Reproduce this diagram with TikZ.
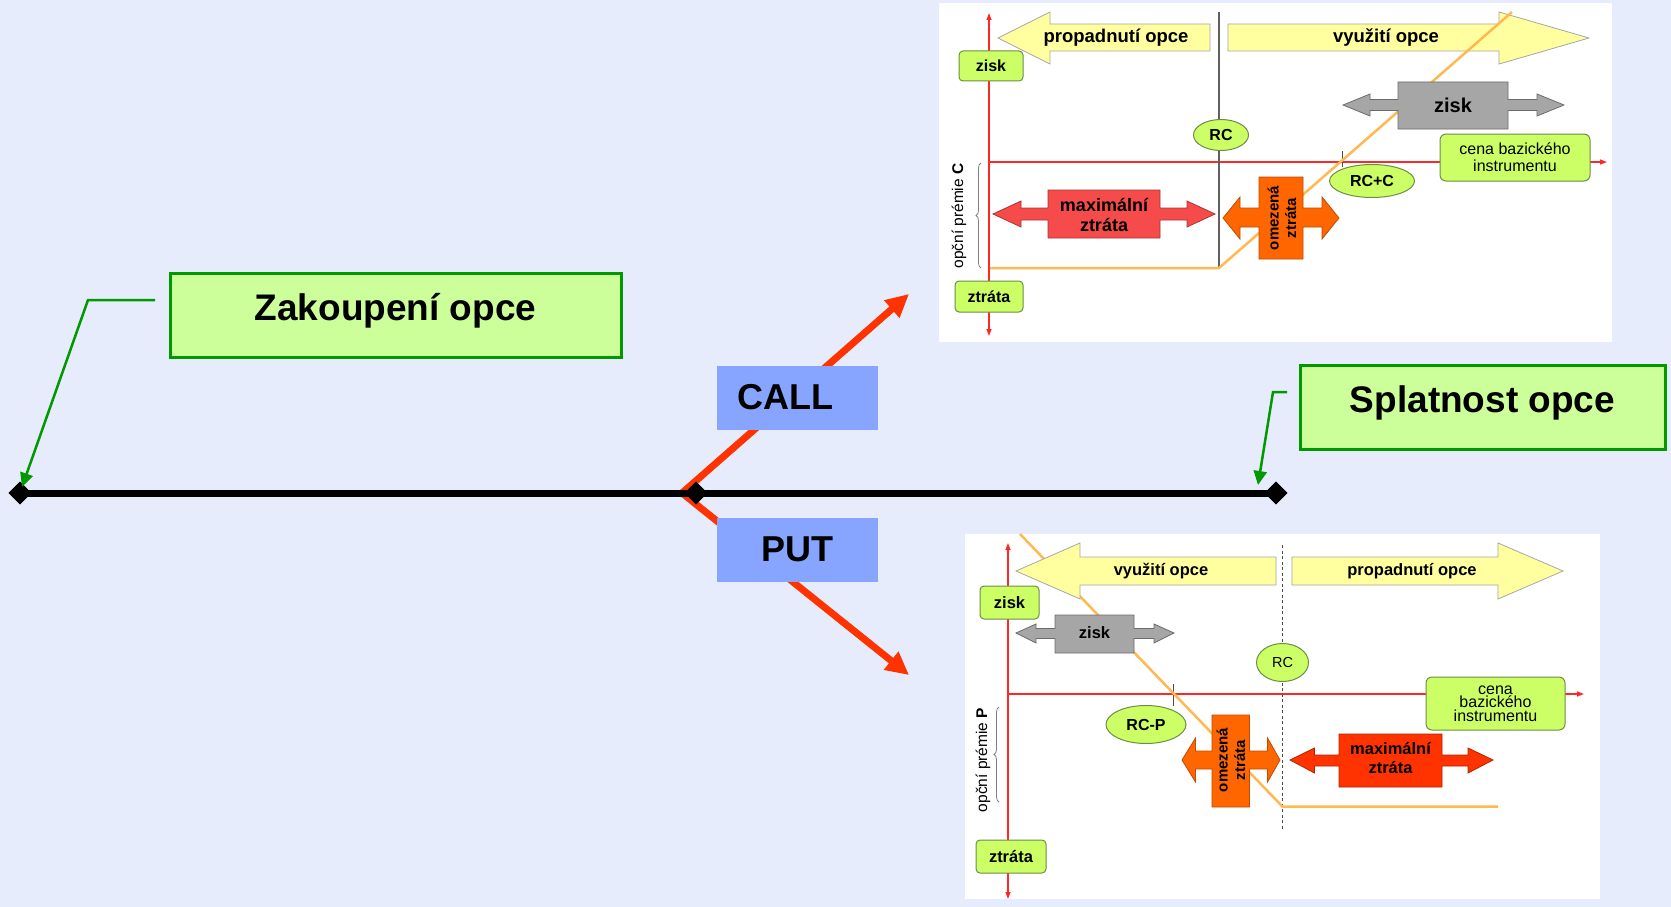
\documentclass[tikz,border=0pt]{standalone}
\usepackage{fontspec}
\setmainfont{Liberation Sans}
\usetikzlibrary{arrows.meta,shapes.geometric,decorations.pathreplacing}
\definecolor{bgc}{RGB}{230,236,252}
\definecolor{mainlime}{RGB}{204,255,153}
\definecolor{boxgreen}{RGB}{0,153,0}
\definecolor{callblue}{RGB}{135,165,255}
\definecolor{arrred}{RGB}{255,51,0}
\definecolor{chlime}{RGB}{204,255,102}
\definecolor{chborder}{RGB}{110,140,70}
\definecolor{yel}{RGB}{255,255,160}
\definecolor{payoff}{RGB}{255,185,80}
\definecolor{axisred}{RGB}{255,40,40}
\definecolor{maxredA}{RGB}{245,75,75}
\definecolor{maxredB}{RGB}{255,51,0}
\definecolor{omez}{RGB}{255,102,0}
\definecolor{greyarr}{RGB}{166,166,166}
\begin{document}
\begin{tikzpicture}[x=1pt,y=-1pt,
  mainbox/.style={draw=boxgreen, line width=3pt, fill=mainlime, inner sep=0pt},
  tagbox/.style={fill=callblue, inner sep=0pt, minimum width=161pt, minimum height=64pt},
  bigtext/.style={inner sep=0pt, font=\fontsize{37}{44}\selectfont\bfseries},
  tagtext/.style={inner sep=0pt, font=\fontsize{36}{42}\selectfont\bfseries},
  leader/.style={draw=boxgreen, line width=2.5pt, -{Triangle[length=14pt,width=13pt]}},
  redv/.style={draw=arrred, line width=7pt, line join=round,
     {Triangle[length=23pt,width=22pt]}-{Triangle[length=23pt,width=22pt]}},
  dia/.style={diamond, fill=black, inner sep=0pt, minimum size=23pt},
  panel/.style={fill=white},
  axis/.style={draw=axisred, line width=1.3pt},
  axarr/.style={axis, -{Triangle[length=7pt,width=5pt]}},
  axarrb/.style={axis, {Triangle[length=7pt,width=5pt]}-{Triangle[length=7pt,width=5pt]}},
  chbox/.style={draw=chborder, fill=chlime, line width=1pt, rounded corners=4pt, inner sep=0pt},
  chell/.style={ellipse, draw=chborder, fill=chlime, line width=1pt, inner sep=0pt},
  yarrow/.style={fill=yel, draw=gray!70, line width=0.8pt},
  garrow/.style={fill=greyarr, draw=gray!85!black, line width=0.8pt},
  rarrowA/.style={fill=maxredA, draw=maxredA!70!black, line width=0.8pt},
  rarrowB/.style={fill=maxredB, draw=maxredB!70!black, line width=0.8pt},
  oarrow/.style={fill=omez, draw=omez!75!black, line width=0.8pt},
  pay/.style={draw=payoff, line width=2.5pt},
  cbold/.style={inner sep=0pt, align=center, font=\fontsize{18.5}{20}\selectfont\bfseries},
  pbold/.style={inner sep=0pt, align=center, font=\fontsize{16.5}{19}\selectfont\bfseries},
  brc/.style={draw=gray, line width=0.8pt, decorate, decoration={brace, amplitude=5pt}}
]
\useasboundingbox (0,0) rectangle (1671,907);
\fill[bgc] (0,0) rectangle (1671,907);

% ================= CALL panel =================
\fill[panel] (939,3) rectangle (1612,342);
\draw[yarrow] (998,38) -- (1050,12) -- (1050,24) -- (1210,24) -- (1210,51) -- (1050,51) -- (1050,64) -- cycle;
\draw[yarrow] (1228,24) -- (1499,24) -- (1499,12) -- (1589,38) -- (1499,64) -- (1499,51) -- (1228,51) -- cycle;
\node[cbold] (cprop) at (1116,38) {propadnutí opce};
\node[cbold] (cvyu) at (1386,38) {využití opce};
\draw[axarrb] (989,13) -- (989,336);
\draw[axarr] (989,162) -- (1607,162);
\draw[draw=gray!75!black, line width=1.2pt] (1219,12) -- (1219,268);
\draw[draw=gray!60!black, line width=1pt] (1342,151) -- (1342,167);
\draw[pay] (990,268) -- (1219,268) -- (1512,12);
\draw[garrow] (1343,105) -- (1370,94) -- (1370,99.5) -- (1398,99.5) -- (1398,82) -- (1508,82) -- (1508,99.5) -- (1537,99.5) -- (1537,94) -- (1564,105) -- (1537,116) -- (1537,110.5) -- (1508,110.5) -- (1508,129) -- (1398,129) -- (1398,110.5) -- (1370,110.5) -- (1370,116) -- cycle;
\node[inner sep=0pt, font=\fontsize{20}{22}\selectfont\bfseries] (czisk2) at (1453,105) {zisk};
\draw[rarrowA] (993,214) -- (1021,201) -- (1021,208) -- (1048,208) -- (1048,190) -- (1160,190) -- (1160,208) -- (1187,208) -- (1187,201) -- (1215,214) -- (1187,227) -- (1187,220) -- (1160,220) -- (1160,238) -- (1048,238) -- (1048,220) -- (1021,220) -- (1021,227) -- cycle;
\node[cbold, font=\fontsize{18}{20}\selectfont\bfseries] (cmax) at (1104,215) {maximální\\ztráta};
\draw[oarrow] (1223,218) -- (1240,197) -- (1240,208) -- (1259,208) -- (1259,177) -- (1303,177) -- (1303,208) -- (1322,208) -- (1322,197) -- (1339,218) -- (1322,239) -- (1322,227) -- (1303,227) -- (1303,259) -- (1259,259) -- (1259,227) -- (1240,227) -- (1240,239) -- cycle;
\node[inner sep=0pt, align=center, rotate=90, font=\fontsize{15}{17.5}\selectfont\bfseries] (comez) at (1282,218) {omezená\\ztráta};
\node[chbox, minimum width=64pt, minimum height=30pt, font=\fontsize{16}{18}\selectfont\bfseries] (czisk) at (991,66) {zisk};
\node[chbox, minimum width=68pt, minimum height=31pt, font=\fontsize{16}{18}\selectfont\bfseries] (cztr) at (989,296.5) {ztráta};
\node[chell, minimum width=55pt, minimum height=31pt, font=\fontsize{16}{18}\selectfont\bfseries] (crc) at (1221,135) {RC};
\node[chell, minimum width=85pt, minimum height=33pt, font=\fontsize{16}{18}\selectfont\bfseries] (crcc) at (1372,181) {RC+C};
\node[chbox, rounded corners=6pt, minimum width=150pt, minimum height=47pt, align=center, font=\fontsize{16}{16.7}\selectfont] (ccena) at (1515,157.5) {cena bazického\\instrumentu};
\draw[brc] (981,268) -- (981,163);
\node[inner sep=0pt, rotate=90, font=\fontsize{15.5}{17}\selectfont] (cprem) at (959,216) {opční prémie \textbf{C}};

% ================= PUT panel =================
\fill[panel] (965,534) rectangle (1600,899);
\draw[axarrb] (1008,543) -- (1008,899);
\draw[axarr] (1008,694) -- (1584,694);
\draw[draw=gray!60!black, line width=1pt, dash pattern=on 3pt off 2.5pt] (1282.6,545) -- (1282.6,829);
\draw[draw=gray!60!black, line width=1pt] (1173.5,684) -- (1173.5,706);
\draw[pay] (1020,534) -- (1282.6,806.7) -- (1498,806.7);
\draw[yarrow] (1016,571) -- (1080,543) -- (1080,557) -- (1276,557) -- (1276,585) -- (1080,585) -- (1080,599) -- cycle;
\draw[yarrow] (1292,557) -- (1498,557) -- (1498,543) -- (1563,571) -- (1498,599) -- (1498,585) -- (1292,585) -- cycle;
\node[pbold] (pvyu) at (1161,571) {využití opce};
\node[pbold] (pprop) at (1412,571) {propadnutí opce};
\draw[garrow] (1016,633) -- (1036,624) -- (1036,628.5) -- (1055,628.5) -- (1055,615) -- (1134,615) -- (1134,628.5) -- (1154,628.5) -- (1154,624) -- (1174,633) -- (1154,643) -- (1154,638.5) -- (1134,638.5) -- (1134,653) -- (1055,653) -- (1055,638.5) -- (1036,638.5) -- (1036,643) -- cycle;
\node[pbold] (pzisk2) at (1094.5,633) {zisk};
\draw[oarrow] (1182,760) -- (1195.5,738) -- (1195.5,751) -- (1212,751) -- (1212,715) -- (1249.5,715) -- (1249.5,751) -- (1267.5,751) -- (1267.5,738) -- (1280,760) -- (1267.5,782) -- (1267.5,769) -- (1249.5,769) -- (1249.5,807) -- (1212,807) -- (1212,769) -- (1195.5,769) -- (1195.5,782) -- cycle;
\node[inner sep=0pt, align=center, rotate=90, font=\fontsize{15}{17.5}\selectfont\bfseries] (pomez) at (1231,760) {omezená\\ztráta};
\draw[rarrowB] (1290,760) -- (1314.5,748) -- (1314.5,755) -- (1339,755) -- (1339,734) -- (1442,734) -- (1442,755) -- (1468,755) -- (1468,748) -- (1493,760) -- (1468,773) -- (1468,766) -- (1442,766) -- (1442,787) -- (1339,787) -- (1339,766) -- (1314.5,766) -- (1314.5,773) -- cycle;
\node[pbold] (pmax) at (1390.5,758) {maximální\\ztráta};
\node[chbox, minimum width=59pt, minimum height=33pt, font=\fontsize{16.5}{18}\selectfont\bfseries] (pzisk) at (1009.5,602.5) {zisk};
\node[chbox, minimum width=70pt, minimum height=33pt, font=\fontsize{16.5}{18}\selectfont\bfseries] (pztr) at (1011,856.5) {ztráta};
\node[chell, minimum width=52pt, minimum height=38pt, font=\fontsize{14.5}{16}\selectfont] (prc) at (1282.5,662.5) {RC};
\node[chell, minimum width=80pt, minimum height=38pt, font=\fontsize{16}{18}\selectfont\bfseries] (prcp) at (1146,724.5) {RC-P};
\node[chbox, rounded corners=6pt, minimum width=139pt, minimum height=53pt, align=center, font=\fontsize{16}{13.3}\selectfont] (pcena) at (1495.5,703.5) {cena\\bazického\\instrumentu};
\draw[brc] (999,802) -- (999,707);
\node[inner sep=0pt, rotate=90, font=\fontsize{15.5}{17}\selectfont] (pprem) at (983,760) {opční prémie \textbf{P}};

% ================= main time line =================
\coordinate (vtx) at (682,493);
\coordinate (callend) at (909,294);
\coordinate (putend) at (909,675);
\draw[redv] (callend) -- (vtx) -- (putend);
\node[dia] (d1) at (20,493) {};
\node[dia] (d2) at (696,493) {};
\node[dia] (d3) at (1276,493) {};
\draw[line width=7pt] (d1.center) -- (d3.center);
\node[dia] at (d1.center) {};
\node[dia] at (d2.center) {};
\node[dia] at (d3.center) {};

\node[tagbox] (call) at (797.5,397.5) {};
\node[tagtext] (calltext) at (785,397.5) {CALL};
\node[tagbox] (put) at (797.5,549.5) {};
\node[tagtext] (puttext) at (797.5,549.5) {PUT};

\node[mainbox, minimum width=451pt, minimum height=84pt] (zak) at (395.5,315) {};
\node[bigtext, anchor=base] (zaktext) at (395.5,320) {Zakoupení opce};
\node[mainbox, minimum width=365pt, minimum height=84pt] (spl) at (1482.5,407) {};
\node[bigtext, anchor=base] (spltext) at (1482.5,412.7) {Splatnost opce};

\coordinate (zakA) at (155,300);
\coordinate (zakB) at (88,300);
\coordinate (zakTip) at (22,487);
\draw[leader] (zakA) -- (zakB) -- (zakTip);
\coordinate (splA) at (1287,392);
\coordinate (splB) at (1273,392);
\coordinate (splTip) at (1258,485);
\draw[leader] (splA) -- (splB) -- (splTip);
\end{tikzpicture}
\end{document}
